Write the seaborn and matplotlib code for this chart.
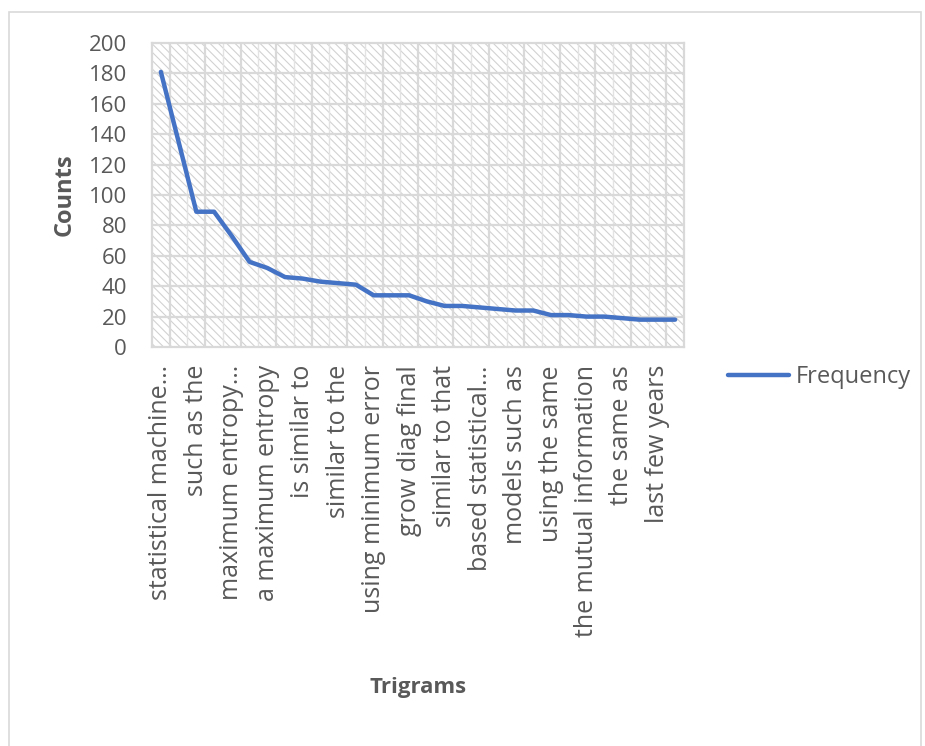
import numpy as np
import pandas as pd
import matplotlib
matplotlib.use("Agg")
import matplotlib.pyplot as plt
from matplotlib.patches import Rectangle
from matplotlib import font_manager
import seaborn as sns

# Trigram frequencies (every trigram, in rank order)
frequency = [181, 135, 89, 89, 73, 56, 52, 46, 45, 43,
             42, 41, 34, 34, 34, 30, 27, 27, 26, 25,
             24, 24, 21, 21, 20, 20, 19, 18, 18, 18]

# Labels shown on the category axis (every second trigram)
tick_labels = ["statistical machine…", "such as the", "maximum entropy…",
               "a maximum entropy", "is similar to", "similar to the",
               "using minimum error", "grow diag final", "similar to that",
               "based statistical…", "models such as", "using the same",
               "the mutual information", "the same as", "last few years"]

y_ticks = [0, 20, 40, 60, 80, 100, 120, 140, 160, 180, 200]

sns.set_theme(style="white")
plt.rcParams["font.family"] = ["Open Sans", "DejaVu Sans"]
plt.rcParams["hatch.linewidth"] = 0.8

installed = {f.name for f in font_manager.fontManager.ttflist}
if "Liberation Sans Narrow" in installed:
    num_font, num_size = "Liberation Sans Narrow", 19
else:
    num_font, num_size = "Open Sans", 16

TEXT = "#595959"
GRID = "#d9d9d9"
LINE = "#4472C4"

W, H = 925, 746
fig = plt.figure(figsize=(W / 100, H / 100), dpi=100)
fig.patch.set_facecolor("white")

# chart-area border
fig.add_artist(Rectangle((9 / W, -0.01), (912 / W), 1 - 12 / H + 0.01,
                         transform=fig.transFigure, fill=False,
                         edgecolor=GRID, linewidth=1.2, zorder=0))

left, right, top, bottom = 152, 684, 43, 347
ax = fig.add_axes([left / W, 1 - bottom / H, (right - left) / W, (bottom - top) / H])
ax.set_facecolor("white")

# hatched plot-area fill
ax.add_patch(Rectangle((0, 0), 1, 1, transform=ax.transAxes, facecolor="white",
                       edgecolor="#d2d2d2", hatch="\\\\\\\\", linewidth=0, zorder=0.1))

df = pd.DataFrame({"pos": np.arange(len(frequency)), "Frequency": frequency})
sns.lineplot(data=df, x="pos", y="Frequency", ax=ax, color=LINE, linewidth=3.2,
             label="Frequency", zorder=3)
for ln in ax.get_lines():
    ln.set_solid_capstyle("round")
    ln.set_solid_joinstyle("round")

n = len(frequency)
ax.set_xlim(-0.5, n - 0.5)
ax.set_ylim(0, 200)

# gridlines
xf = ax.get_xaxis_transform()
ax.vlines(np.arange(1.5, n - 1, 2), 0, 1, transform=xf, color="#e3e3e3", linewidth=1.0, zorder=0.5)
ax.vlines(np.arange(0.5, n - 1, 2), 0, 1, transform=xf, color=GRID, linewidth=1.6, zorder=0.6)
ax.hlines(y_ticks[1:-1], -0.5, n - 0.5, color=GRID, linewidth=1.6, zorder=0.6)

for s in ax.spines.values():
    s.set_visible(True)
    s.set_color(GRID)
    s.set_linewidth(1.6)

ax.set_yticks(y_ticks)
ax.set_yticklabels([str(v) for v in y_ticks], fontfamily=num_font)
ax.set_xticks(np.arange(0, n, 2))
ax.set_xticklabels(tick_labels, rotation=90, ha="center", va="top")
ax.tick_params(axis="y", length=0, pad=18, labelsize=num_size, labelcolor=TEXT)
ax.tick_params(axis="x", length=0, pad=13, labelsize=18, labelcolor=TEXT)

ax.set_xlabel("")
ax.set_ylabel("")
fig.text(65 / W, 1 - 195 / H, "Counts", rotation=90, ha="center", va="center",
         fontsize=17, fontweight="bold", color=TEXT)
fig.text(418 / W, 1 - 688 / H, "Trigrams", ha="center", va="center",
         fontsize=16, fontweight="bold", color=TEXT)

leg = ax.legend(loc="center left", bbox_to_anchor=(728 / W, 1 - 377 / H),
                bbox_transform=fig.transFigure, frameon=False, fontsize=17,
                handlelength=2.6, handletextpad=0.25, borderpad=0, borderaxespad=0)
for t in leg.get_texts():
    t.set_color(TEXT)

fig.savefig("out.png", dpi=100, facecolor="white")
